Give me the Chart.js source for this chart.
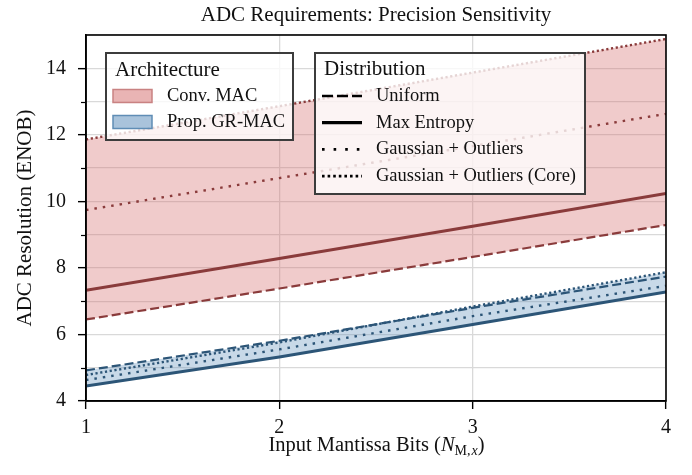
<!DOCTYPE html>
<html>
<head>
<meta charset="utf-8">
<script src="https://cdn.jsdelivr.net/npm/chart.js@4.4.0/dist/chart.umd.min.js"></script>
<style>
html, body { margin: 0; padding: 0; background: #fff; }
#wrap { width: 692px; height: 475px; }
</style>
</head>
<body>
<div id="wrap"><canvas id="c"></canvas></div>
<script>
// input mantissa bits
var bits = [1, 2, 3, 4];
// Conv. MAC
var convUniform = [6.45, 7.38, 8.33, 9.29];
var convMaxEnt = [7.33, 8.28, 9.25, 10.24];
var convGauss = [9.74, 10.70, 11.66, 12.63];
var convCore = [11.86, 12.86, 13.87, 14.88];
// Prop. GR-MAC
var propUniform = [4.92, 5.81, 6.80, 7.74];
var propMaxEnt = [4.45, 5.32, 6.30, 7.28];
var propGauss = [4.63, 5.55, 6.55, 7.46];
var propCore = [4.78, 5.76, 6.84, 7.87];
var yTickLabels = [4, 6, 8, 10, 12, 14];

var FONT = "'Liberation Serif', 'DejaVu Serif', serif";
var RED = '#8a3b3b', BLUE = '#2c5577';

function pts(ys) {
    return bits.map(function (b, i) { return { x: b, y: ys[i] }; });
}
function band(list, fn) {
    return bits.map(function (b, i) {
        return { x: b, y: fn.apply(null, list.map(function (s) { return s[i]; })) };
    });
}
var convAll = [convUniform, convMaxEnt, convGauss, convCore];
var propAll = [propUniform, propMaxEnt, propGauss, propCore];

var styles = [
    { dash: [9, 4], width: 2.2 },
    { dash: [], width: 3 },
    { dash: [2.5, 6], width: 2.4 },
    { dash: [2.2, 2.6], width: 2.4 }
];

var datasets = [];
[[convAll, RED], [propAll, BLUE]].forEach(function (g) {
    g[0].forEach(function (s, k) {
        datasets.push({
            data: pts(s), borderColor: g[1], borderWidth: styles[k].width,
            borderDash: styles[k].dash, pointRadius: 0, fill: false, tension: 0
        });
    });
});
datasets.push({ data: band(convAll, Math.max), borderWidth: 0, pointRadius: 0, fill: '+1', backgroundColor: 'rgba(212,106,106,0.35)' });
datasets.push({ data: band(convAll, Math.min), borderWidth: 0, pointRadius: 0, fill: false });
datasets.push({ data: band(propAll, Math.max), borderWidth: 0, pointRadius: 0, fill: '+1', backgroundColor: 'rgba(98,146,189,0.35)' });
datasets.push({ data: band(propAll, Math.min), borderWidth: 0, pointRadius: 0, fill: false });

var decor = {
    id: 'decor',
    afterDraw: function (chart) {
        var ctx = chart.ctx, a = chart.chartArea, ys = chart.scales.y;
        var cx = (a.left + a.right) / 2;
        ctx.save();
        // frame
        ctx.strokeStyle = '#000';
        ctx.lineWidth = 1.6;
        ctx.strokeRect(a.left, a.top, a.right - a.left, a.bottom - a.top);

        // minor y ticks
        ctx.lineWidth = 1.2;
        ys.ticks.forEach(function (t) {
            if (yTickLabels.indexOf(t.value) >= 0 || t.value >= ys.max) return;
            var py = Math.round(ys.getPixelForValue(t.value)) + 0.5;
            ctx.beginPath();
            ctx.moveTo(a.left - 5, py);
            ctx.lineTo(a.left, py);
            ctx.stroke();
        });

        // title, centred over the axes
        ctx.fillStyle = '#111';
        ctx.textBaseline = 'middle';
        ctx.textAlign = 'center';
        ctx.font = '21px ' + FONT;
        ctx.fillText('ADC Requirements: Precision Sensitivity', cx, 15);

        // x axis title with subscript
        var y = 446, parts = [
            ['Input Mantissa Bits (', '20.5px ' + FONT, 0],
            ['N', 'italic 20.5px ' + FONT, 0],
            ['M,', '14px ' + FONT, 5],
            ['x', 'italic 14px ' + FONT, 5],
            [')', '20.5px ' + FONT, 0]
        ];
        var w = 0;
        parts.forEach(function (p) { ctx.font = p[1]; w += ctx.measureText(p[0]).width; });
        var x = cx - w / 2;
        ctx.textAlign = 'left';
        parts.forEach(function (p) {
            ctx.font = p[1];
            ctx.fillText(p[0], x, y + p[2]);
            x += ctx.measureText(p[0]).width + (p[0] === 'M,' ? 1 : 0);
        });

        // legend boxes
        function box(x0, y0, x1, y1) {
            ctx.fillStyle = 'rgba(255,255,255,0.78)';
            ctx.fillRect(x0, y0, x1 - x0, y1 - y0);
            ctx.strokeStyle = '#3c3c3c';
            ctx.lineWidth = 2;
            ctx.setLineDash([]);
            ctx.strokeRect(x0, y0, x1 - x0, y1 - y0);
        }
        box(106, 53, 293, 140);
        ctx.fillStyle = '#111';
        ctx.font = '21px ' + FONT;
        ctx.fillText('Architecture', 115, 70);
        var patches = [['Conv. MAC', 'rgba(212,106,106,0.5)', '#c98282', 96],
                       ['Prop. GR-MAC', 'rgba(98,146,189,0.55)', '#5f8db5', 122]];
        ctx.font = '18.5px ' + FONT;
        patches.forEach(function (p) {
            ctx.fillStyle = p[1];
            ctx.fillRect(113, p[3] - 6.5, 39, 13);
            ctx.strokeStyle = p[2];
            ctx.lineWidth = 1.5;
            ctx.strokeRect(113, p[3] - 6.5, 39, 13);
            ctx.fillStyle = '#111';
            ctx.fillText(p[0], 167, p[3]);
        });

        box(315, 53, 585, 194);
        ctx.fillStyle = '#111';
        ctx.font = '21px ' + FONT;
        ctx.fillText('Distribution', 324, 69);
        var names = ['Uniform', 'Max Entropy', 'Gaussian + Outliers', 'Gaussian + Outliers (Core)'];
        var lw = [2.6, 3.2, 2.6, 2.6];
        var ld = [[11, 4], [], [2.6, 9], [2.6, 3]];
        ctx.font = '18.5px ' + FONT;
        names.forEach(function (n, k) {
            var ly = 96 + k * 26.7;
            ctx.strokeStyle = '#000';
            ctx.lineWidth = lw[k];
            ctx.setLineDash(ld[k]);
            ctx.beginPath();
            ctx.moveTo(322, ly);
            ctx.lineTo(362, ly);
            ctx.stroke();
            ctx.setLineDash([]);
            ctx.fillStyle = '#111';
            ctx.fillText(n, 376, ly);
        });
        ctx.restore();
    }
};

new Chart(document.getElementById('c'), {
    type: 'line',
    data: { datasets: datasets },
    options: {
        responsive: true,
        maintainAspectRatio: false,
        animation: false,
        layout: { padding: { left: 0, right: 26, top: 35, bottom: 0 } },
        plugins: {
            legend: { display: false },
            tooltip: { enabled: false },
            filler: { drawTime: 'beforeDatasetsDraw' },
            title: { display: false }
        },
        scales: {
            x: {
                type: 'linear', min: 1, max: 4,
                afterFit: function (s) { s.height = 74; },
                ticks: { stepSize: 1, color: '#111', padding: 7, font: { family: FONT, size: 20 } },
                grid: { color: '#d9d9d9', lineWidth: 1.3, tickLength: 8, tickColor: '#000', tickWidth: 1.4 },
                border: { color: '#000', width: 1.6 }
            },
            y: {
                min: 4, max: 15,
                afterFit: function (s) { s.width = 86; },
                ticks: {
                    stepSize: 1, color: '#111', padding: 12, font: { family: FONT, size: 20 },
                    callback: function (v) { return yTickLabels.indexOf(v) >= 0 ? v : ''; }
                },
                grid: {
                    color: '#d9d9d9', lineWidth: 1.3, tickLength: 8, tickWidth: 1.4,
                    tickColor: function (c) { return c.tick && yTickLabels.indexOf(c.tick.value) >= 0 ? '#000' : 'rgba(0,0,0,0)'; }
                },
                border: { color: '#000', width: 1.6 },
                title: {
                    display: true, text: 'ADC Resolution (ENOB)', color: '#111',
                    font: { family: FONT, size: 21 }, padding: { top: 12.4, bottom: 0 }
                }
            }
        }
    },
    plugins: [decor]
});
</script>
</body>
</html>
